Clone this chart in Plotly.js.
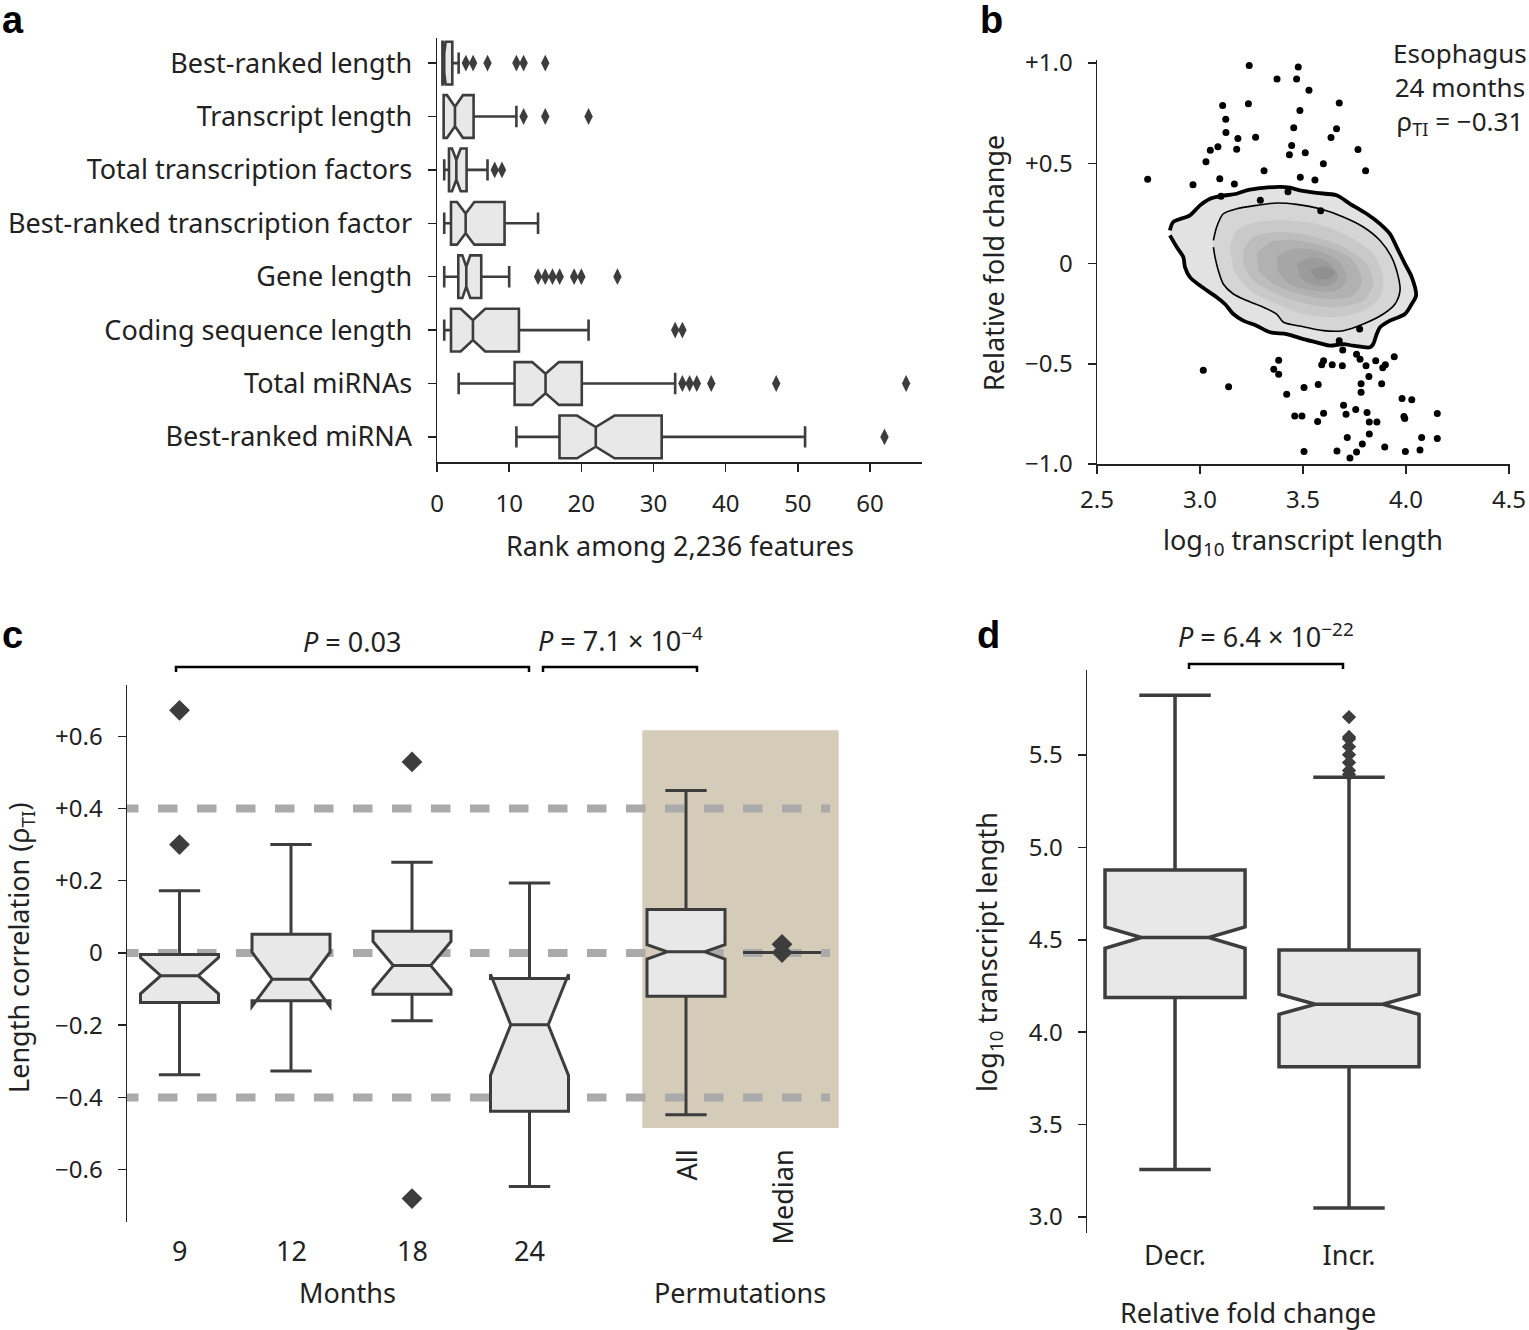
<!DOCTYPE html>
<html><head><meta charset="utf-8">
<script src="https://cdn.plot.ly/plotly-3.0.1.min.js"></script>
<style>html,body{margin:0;padding:0;background:#fff}#chart{width:1529px;height:1330px}</style>
</head><body><div id="chart"></div>
<script>
// ================= DATA =================
// Panel a: rank of feature groups (horizontal notched boxes)
const aCategories = ["Best-ranked length","Transcript length","Total transcription factors","Best-ranked transcription factor","Gene length","Coding sequence length","Total miRNAs","Best-ranked miRNA"];
const aLowerFence = [0.75, 0.92, 1, 1, 1, 1, 3, 11];
const aQ1         = [0.75, 0.92, 1.66, 1.94, 2.95, 1.94, 10.75, 16.97];
const aMedian     = [1.0, 2.49, 2.68, 3.97, 4.06, 4.98, 15.04, 22.0];
const aQ3         = [2.12, 5.07, 4.1, 9.36, 6.13, 11.35, 20.06, 31.13];
const aUpperFence = [3, 11, 7, 14, 10, 21, 33, 51];
const aNotchSpan  = [0.2, 1.1, 0.6, 1.2, 0.55, 1.7, 1.85, 2.6];
const aOutliers   = [[4,5,7,11,12,15],[12,15,21],[8,9],[],[14,15,16,17,19,20,25],[33,34],[34,35,36,38,47,65],[62]];
const aTicks = [0,10,20,30,40,50,60];

// Panel b: scatter outside density + density contour levels
const bX = [3.239,3.477,3.374,3.469,3.529,3.110,3.235,3.676,3.485,3.125,3.663,3.455,3.126,3.184,3.270,3.636,3.087,3.050,3.178,3.445,3.434,3.511,3.767,3.029,3.599,3.311,3.804,2.746,3.096,3.487,3.558,2.966,3.167,3.102,3.427,3.293,3.586,
            3.775,3.676,3.693,3.760,3.943,3.382,3.600,3.591,3.642,3.691,3.777,3.806,3.853,3.900,3.887,3.016,3.358,3.382,3.820,3.139,3.574,3.505,3.421,3.782,3.882,3.782,3.981,4.028,3.697,3.756,3.460,3.495,3.600,3.709,3.811,3.571,3.822,3.859,3.990,3.994,4.152,3.715,3.822,3.788,3.897,4.076,4.152,3.505,3.665,3.760,3.728,3.997,4.068];
const bY = [0.987,0.980,0.920,0.920,0.864,0.788,0.797,0.800,0.763,0.720,0.672,0.677,0.653,0.623,0.630,0.628,0.582,0.565,0.570,0.588,0.543,0.552,0.568,0.507,0.498,0.462,0.462,0.420,0.423,0.430,0.417,0.393,0.397,0.335,0.358,0.315,0.263,
            -0.327,-0.385,-0.432,-0.452,-0.465,-0.483,-0.485,-0.505,-0.505,-0.510,-0.477,-0.510,-0.485,-0.505,-0.520,-0.532,-0.528,-0.552,-0.563,-0.615,-0.603,-0.618,-0.652,-0.600,-0.600,-0.642,-0.673,-0.680,-0.707,-0.728,-0.760,-0.760,-0.747,-0.752,-0.743,-0.788,-0.790,-0.790,-0.763,-0.773,-0.748,-0.868,-0.850,-0.900,-0.915,-0.868,-0.873,-0.938,-0.935,-0.940,-0.970,-0.938,-0.930];
const bContourX = [
  [2.854,2.870,2.951,3.000,3.049,3.105,3.178,3.227,3.307,3.388,3.437,3.485,3.566,3.663,3.728,3.809,3.874,3.922,3.955,3.995,4.028,4.049,4.028,3.995,3.922,3.874,3.858,3.841,3.825,3.744,3.696,3.631,3.583,3.502,3.421,3.340,3.275,3.210,3.162,3.121,3.081,3.000,2.951,2.927,2.919,2.887,2.854],
  [3.065,3.081,3.113,3.178,3.275,3.372,3.469,3.583,3.696,3.793,3.874,3.930,3.963,3.971,3.947,3.890,3.793,3.696,3.599,3.502,3.405,3.372,3.307,3.227,3.162,3.113,3.089,3.073,3.065],
  [3.146,3.178,3.275,3.405,3.566,3.728,3.841,3.890,3.874,3.793,3.663,3.502,3.372,3.243,3.162],
  [3.210,3.259,3.372,3.534,3.696,3.809,3.841,3.793,3.663,3.518,3.372,3.259,3.210],
  [3.275,3.340,3.469,3.615,3.744,3.785,3.744,3.631,3.485,3.356,3.283],
  [3.372,3.453,3.566,3.680,3.712,3.663,3.550,3.437,3.380],
  [3.469,3.550,3.631,3.672,3.631,3.534,3.485],
  [3.534,3.599,3.655,3.631,3.566]
];
const bContourY = [
  [0.165,0.207,0.240,0.290,0.323,0.337,0.348,0.365,0.377,0.382,0.378,0.365,0.352,0.340,0.298,0.248,0.198,0.148,0.082,-0.002,-0.068,-0.160,-0.202,-0.252,-0.285,-0.318,-0.352,-0.402,-0.418,-0.410,-0.402,-0.410,-0.398,-0.377,-0.352,-0.343,-0.310,-0.285,-0.252,-0.202,-0.168,-0.110,-0.068,-0.018,0.032,0.082,0.140],
  [0.115,0.182,0.248,0.273,0.290,0.302,0.295,0.273,0.232,0.182,0.115,0.032,-0.068,-0.135,-0.202,-0.252,-0.302,-0.335,-0.335,-0.315,-0.293,-0.252,-0.218,-0.185,-0.152,-0.102,-0.035,0.032,0.082],
  [0.082,0.165,0.207,0.215,0.198,0.132,0.048,-0.068,-0.168,-0.235,-0.268,-0.252,-0.202,-0.135,-0.035],
  [0.065,0.132,0.157,0.140,0.082,-0.002,-0.102,-0.185,-0.218,-0.202,-0.152,-0.085,-0.002],
  [0.048,0.107,0.115,0.082,0.015,-0.085,-0.160,-0.177,-0.152,-0.102,-0.035],
  [0.032,0.073,0.065,0.007,-0.085,-0.135,-0.135,-0.102,-0.043],
  [-0.002,0.032,-0.002,-0.068,-0.110,-0.102,-0.068],
  [-0.035,-0.015,-0.043,-0.077,-0.077]
];
const bXTicks = [2.5,3.0,3.5,4.0,4.5];
const bYTicks = [1.0,0.5,0,-0.5,-1.0];
const bYTickText = ["+1.0","+0.5","0","\u22120.5","\u22121.0"];

// Panel c: length correlation by age and permutations
const cCategories = ["9","12","18","24","All","Median"];
const cQ1         = [-0.137,-0.132,-0.114,-0.438,-0.120,0.001];
const cMedian     = [-0.063,-0.073,-0.035,-0.199,0.003,0.001];
const cQ3         = [-0.004,0.052,0.060,-0.071,0.120,0.001];
const cLowerFence = [-0.337,-0.327,-0.188,-0.647,-0.448,0.001];
const cUpperFence = [0.172,0.300,0.251,0.194,0.450,0.001];
const cNotchSpan  = [0.05,0.075,0.067,0.14,0.02,0];
const cOutliers   = [[0.672,0.300],[],[0.529,-0.680],[],[],[0.024,0.001]];
const cYTicks = [0.6,0.4,0.2,0,-0.2,-0.4,-0.6];
const cYTickText = ["+0.6","+0.4","+0.2","0","\u22120.2","\u22120.4","\u22120.6"];
const cRefLines = [0.4, 0, -0.4];

// Panel d: transcript length by fold-change direction
const dCategories = ["Decr.","Incr."];
const dQ1         = [4.187,3.813];
const dMedian     = [4.512,4.151];
const dQ3         = [4.878,4.444];
const dLowerFence = [3.257,3.048];
const dUpperFence = [5.823,5.380];
const dNotchSpan  = [0.058,0.054];
const dOutliers   = [[],[5.705,5.598,5.587,5.545,5.502,5.459,5.416,5.395]];
const dYTicks = [3.0,3.5,4.0,4.5,5.0,5.5];

// ================= LAYOUT HELPERS =================
const W = 1529, H = 1330;
const PX = v => v / W, PY = v => 1 - v / H;
const cPos = [0.525, 1.64, 2.85, 4.025, 5.59, 6.55];   // box positions on panel-c axis
const FONT = "Noto Sans";
const INK = "#222222", BOXLINE = "#3d3d3d", BOXFILL = "#e8e8e8";
const TXT = 27, TICK = 24;

const traces = [];

// ---- panel a
traces.push({type:'box', orientation:'h', y:aCategories, q1:aQ1, median:aMedian, q3:aQ3,
  lowerfence:aLowerFence, upperfence:aUpperFence, notchspan:aNotchSpan, notched:true, notchwidth:0.27,
  width:0.8, whiskerwidth:0.5, fillcolor:BOXFILL, line:{color:BOXLINE, width:2.6},
  boxpoints:false, xaxis:'x', yaxis:'y', hoverinfo:'skip', showlegend:false});
const aOutX = [], aOutY = [];
aOutliers.forEach((arr,i) => arr.forEach(v => { aOutX.push(v); aOutY.push(aCategories[i]); }));
traces.push({type:'scatter', mode:'markers', x:aOutX, y:aOutY, xaxis:'x', yaxis:'y',
  marker:{symbol:'diamond-tall', size:12, color:BOXLINE}, showlegend:false, hoverinfo:'skip', cliponaxis:false});

// ---- panel b
const bFills = ['#e2e2e2','#d5d5d5','#c9c9c9','#bdbdbd','#b1b1b1','#a6a6a6','#9b9b9b','#909090'];
bContourX.forEach((xs,i) => {
  traces.push({type:'scatter', mode:'lines', x:xs, y:bContourY[i], fill:'toself', fillcolor:bFills[i],
    line:{color: i<2 ? '#000' : bFills[i], width: i===0 ? 3.8 : (i===1 ? 1.6 : 0), shape:'spline', smoothing:0.8},
    xaxis:'x2', yaxis:'y2', showlegend:false, hoverinfo:'skip'});
});
traces.push({type:'scatter', mode:'markers', x:bX, y:bY, xaxis:'x2', yaxis:'y2',
  marker:{size:7, color:'#000'}, showlegend:false, hoverinfo:'skip'});

// ---- panel c
traces.push({type:'box', x:cPos.slice(0,5), q1:cQ1.slice(0,5), median:cMedian.slice(0,5), q3:cQ3.slice(0,5),
  lowerfence:cLowerFence.slice(0,5), upperfence:cUpperFence.slice(0,5), notchspan:cNotchSpan.slice(0,5),
  notched:true, notchwidth:0.26, width:0.78, whiskerwidth:0.53, fillcolor:BOXFILL, line:{color:BOXLINE, width:3},
  boxpoints:false, xaxis:'x3', yaxis:'y3', hoverinfo:'skip', showlegend:false});
traces.push({type:'box', x:[cPos[5]], q1:[cQ1[5]], median:[cMedian[5]], q3:[cQ3[5]],
  lowerfence:[cLowerFence[5]], upperfence:[cUpperFence[5]],
  width:0.78, whiskerwidth:1, fillcolor:BOXFILL, line:{color:BOXLINE, width:3},
  boxpoints:false, xaxis:'x3', yaxis:'y3', hoverinfo:'skip', showlegend:false});
const cOutX = [], cOutY = [];
cOutliers.forEach((arr,i) => arr.forEach(v => { cOutX.push(cPos[i]); cOutY.push(v); }));
traces.push({type:'scatter', mode:'markers', x:cOutX, y:cOutY, xaxis:'x3', yaxis:'y3',
  marker:{symbol:'diamond', size:16, color:BOXLINE}, showlegend:false, hoverinfo:'skip', cliponaxis:false});

// ---- panel d
traces.push({type:'box', x:dCategories, q1:dQ1, median:dMedian, q3:dQ3, lowerfence:dLowerFence,
  upperfence:dUpperFence, notchspan:dNotchSpan, notched:true, notchwidth:0.26, width:0.805, whiskerwidth:0.51,
  fillcolor:BOXFILL, line:{color:BOXLINE, width:3.5}, boxpoints:false, xaxis:'x4', yaxis:'y4',
  hoverinfo:'skip', showlegend:false});
const dOutX = [], dOutY = [];
dOutliers.forEach((arr,i) => arr.forEach(v => { dOutX.push(dCategories[i]); dOutY.push(v); }));
traces.push({type:'scatter', mode:'markers', x:dOutX, y:dOutY, xaxis:'x4', yaxis:'y4',
  marker:{symbol:'diamond', size:11, color:BOXLINE}, showlegend:false, hoverinfo:'skip', cliponaxis:false});

// ---- axes
const axBase = {showgrid:false, zeroline:false, showline:true, linecolor:INK, linewidth:1.5,
  ticks:'outside', ticklen:8, tickwidth:1.5, tickcolor:INK, tickfont:{family:FONT, size:TICK, color:INK}};

const layout = {
  width:W, height:H, margin:{l:0,r:0,t:0,b:0}, paper_bgcolor:'#fff', plot_bgcolor:'rgba(0,0,0,0)',
  font:{family:FONT, color:INK}, showlegend:false,
  xaxis: Object.assign({}, axBase, {domain:[PX(437),PX(922)], anchor:'y', range:[0,67.2],
    tickvals:aTicks, ticklabelstandoff:12}),
  yaxis: Object.assign({}, axBase, {domain:[PY(462),PY(38)], anchor:'x', type:'category',
    range:[7.47,-0.47], tickfont:{family:FONT, size:TXT, color:INK}, ticklabelstandoff:10}),
  xaxis2: Object.assign({}, axBase, {domain:[PX(1097),PX(1510)], anchor:'y2', range:[2.5,4.505],
    tickvals:bXTicks, tickformat:'.1f', ticklabelstandoff:6}),
  yaxis2: Object.assign({}, axBase, {domain:[PY(464),PY(60)], anchor:'x2', range:[-1,1.015],
    tickvals:bYTicks, ticktext:bYTickText, ticklabelstandoff:10}),
  xaxis3: {domain:[PX(127),PX(840)], anchor:'y3', range:[0,7.13], showline:false, showgrid:false,
    zeroline:false, showticklabels:false, ticks:''},
  yaxis3: Object.assign({}, axBase, {domain:[PY(1222),PY(685)], anchor:'x3', range:[-0.745,0.742],
    tickvals:cYTicks, ticktext:cYTickText, ticklabelstandoff:10}),
  xaxis4: {domain:[PX(1087),PX(1436)], anchor:'y4', type:'category', range:[-0.506,1.5], showline:false,
    showgrid:false, zeroline:false, ticks:'', tickfont:{family:FONT, size:TXT, color:INK}, ticklabelstandoff:4},
  yaxis4: Object.assign({}, axBase, {domain:[PY(1233),PY(670)], anchor:'x4', range:[2.913,5.96],
    tickvals:dYTicks, tickformat:'.1f', ticklabelstandoff:10}),
  shapes: [], annotations: []
};

// panel c background and reference lines
layout.shapes.push({type:'rect', xref:'x3', yref:'y3', x0:5.153, x1:7.117, y0:-0.485, y1:0.617,
  fillcolor:'#d5cbb9', line:{width:0}, layer:'below'});
cRefLines.forEach(v => layout.shapes.push({type:'line', xref:'x3', yref:'y3', x0:-0.08, x1:7.03, y0:v, y1:v,
  line:{color:'#aaaaaa', width:8, dash:'19.5px,19.5px'}, layer:'below'}));

// significance brackets
function bracket(x0, x1, y, drop) {
  layout.shapes.push({type:'path', xref:'paper', yref:'paper',
    path:`M${PX(x0)},${PY(y+drop)} L${PX(x0)},${PY(y)} L${PX(x1)},${PY(y)} L${PX(x1)},${PY(y+drop)}`,
    line:{color:'#000', width:2.5}});
}
bracket(176, 529, 667, 5);
bracket(543, 697, 667, 5);
bracket(1189, 1343, 664, 5);

function ann(text, x, y, opts) {
  layout.annotations.push(Object.assign({text:text, x:PX(x), y:PY(y), xref:'paper', yref:'paper',
    showarrow:false, xanchor:'center', yanchor:'middle', font:{family:FONT, size:TXT, color:INK}}, opts||{}));
}
// panel letters
const letterFont = {family:'Liberation Sans', size:38, color:'#000', weight:900};
ann('<b>a</b>', 0, -3, {xanchor:'left', yanchor:'top', font:letterFont});
ann('<b>b</b>', 978, -3, {xanchor:'left', yanchor:'top', font:letterFont});
ann('<b>c</b>', 0, 612, {xanchor:'left', yanchor:'top', font:letterFont});
ann('<b>d</b>', 975, 612, {xanchor:'left', yanchor:'top', font:letterFont});

// axis titles and texts
ann('Rank among 2,236 features', 680, 545);
ann('log<sub>10</sub> transcript length', 1303, 541);
ann('Relative fold change', 993, 263, {textangle:-90});
ann('Esophagus<br>24 months<br>\u03c1<sub>TI</sub> = \u22120.31', 1460, 88, {align:'center', font:{family:FONT, size:26, color:INK}});
ann('Length correlation (\u03c1<sub>TI</sub>)', 20, 948, {textangle:-90});
ann('Months', 347, 1292);
ann('Permutations', 740, 1292);
ann('log<sub>10</sub> transcript length', 988, 952, {textangle:-90});
ann('Relative fold change', 1248, 1312);
ann('<i>P</i> = 0.03', 352, 641);
ann('<i>P</i> = 7.1 \u00d7 10<sup>\u22124</sup>', 620, 639);
ann('<i>P</i> = 6.4 \u00d7 10<sup>\u221222</sup>', 1266, 635);

// panel c category labels
cCategories.forEach((c,i) => {
  if (i < 4) {
    layout.annotations.push({text:c, x:cPos[i], y:PY(1250), xref:'x3', yref:'paper', showarrow:false,
      xanchor:'center', yanchor:'middle', font:{family:FONT, size:TXT, color:INK}});
  } else {
    layout.annotations.push({text:c, x:cPos[i], y:PY(1148), xref:'x3', yref:'paper', showarrow:false,
      xanchor:'center', yanchor:'top', textangle:-90, font:{family:FONT, size:TXT, color:INK}});
  }
});

Plotly.newPlot('chart', traces, layout, {staticPlot:true, displayModeBar:false});
</script></body></html>
